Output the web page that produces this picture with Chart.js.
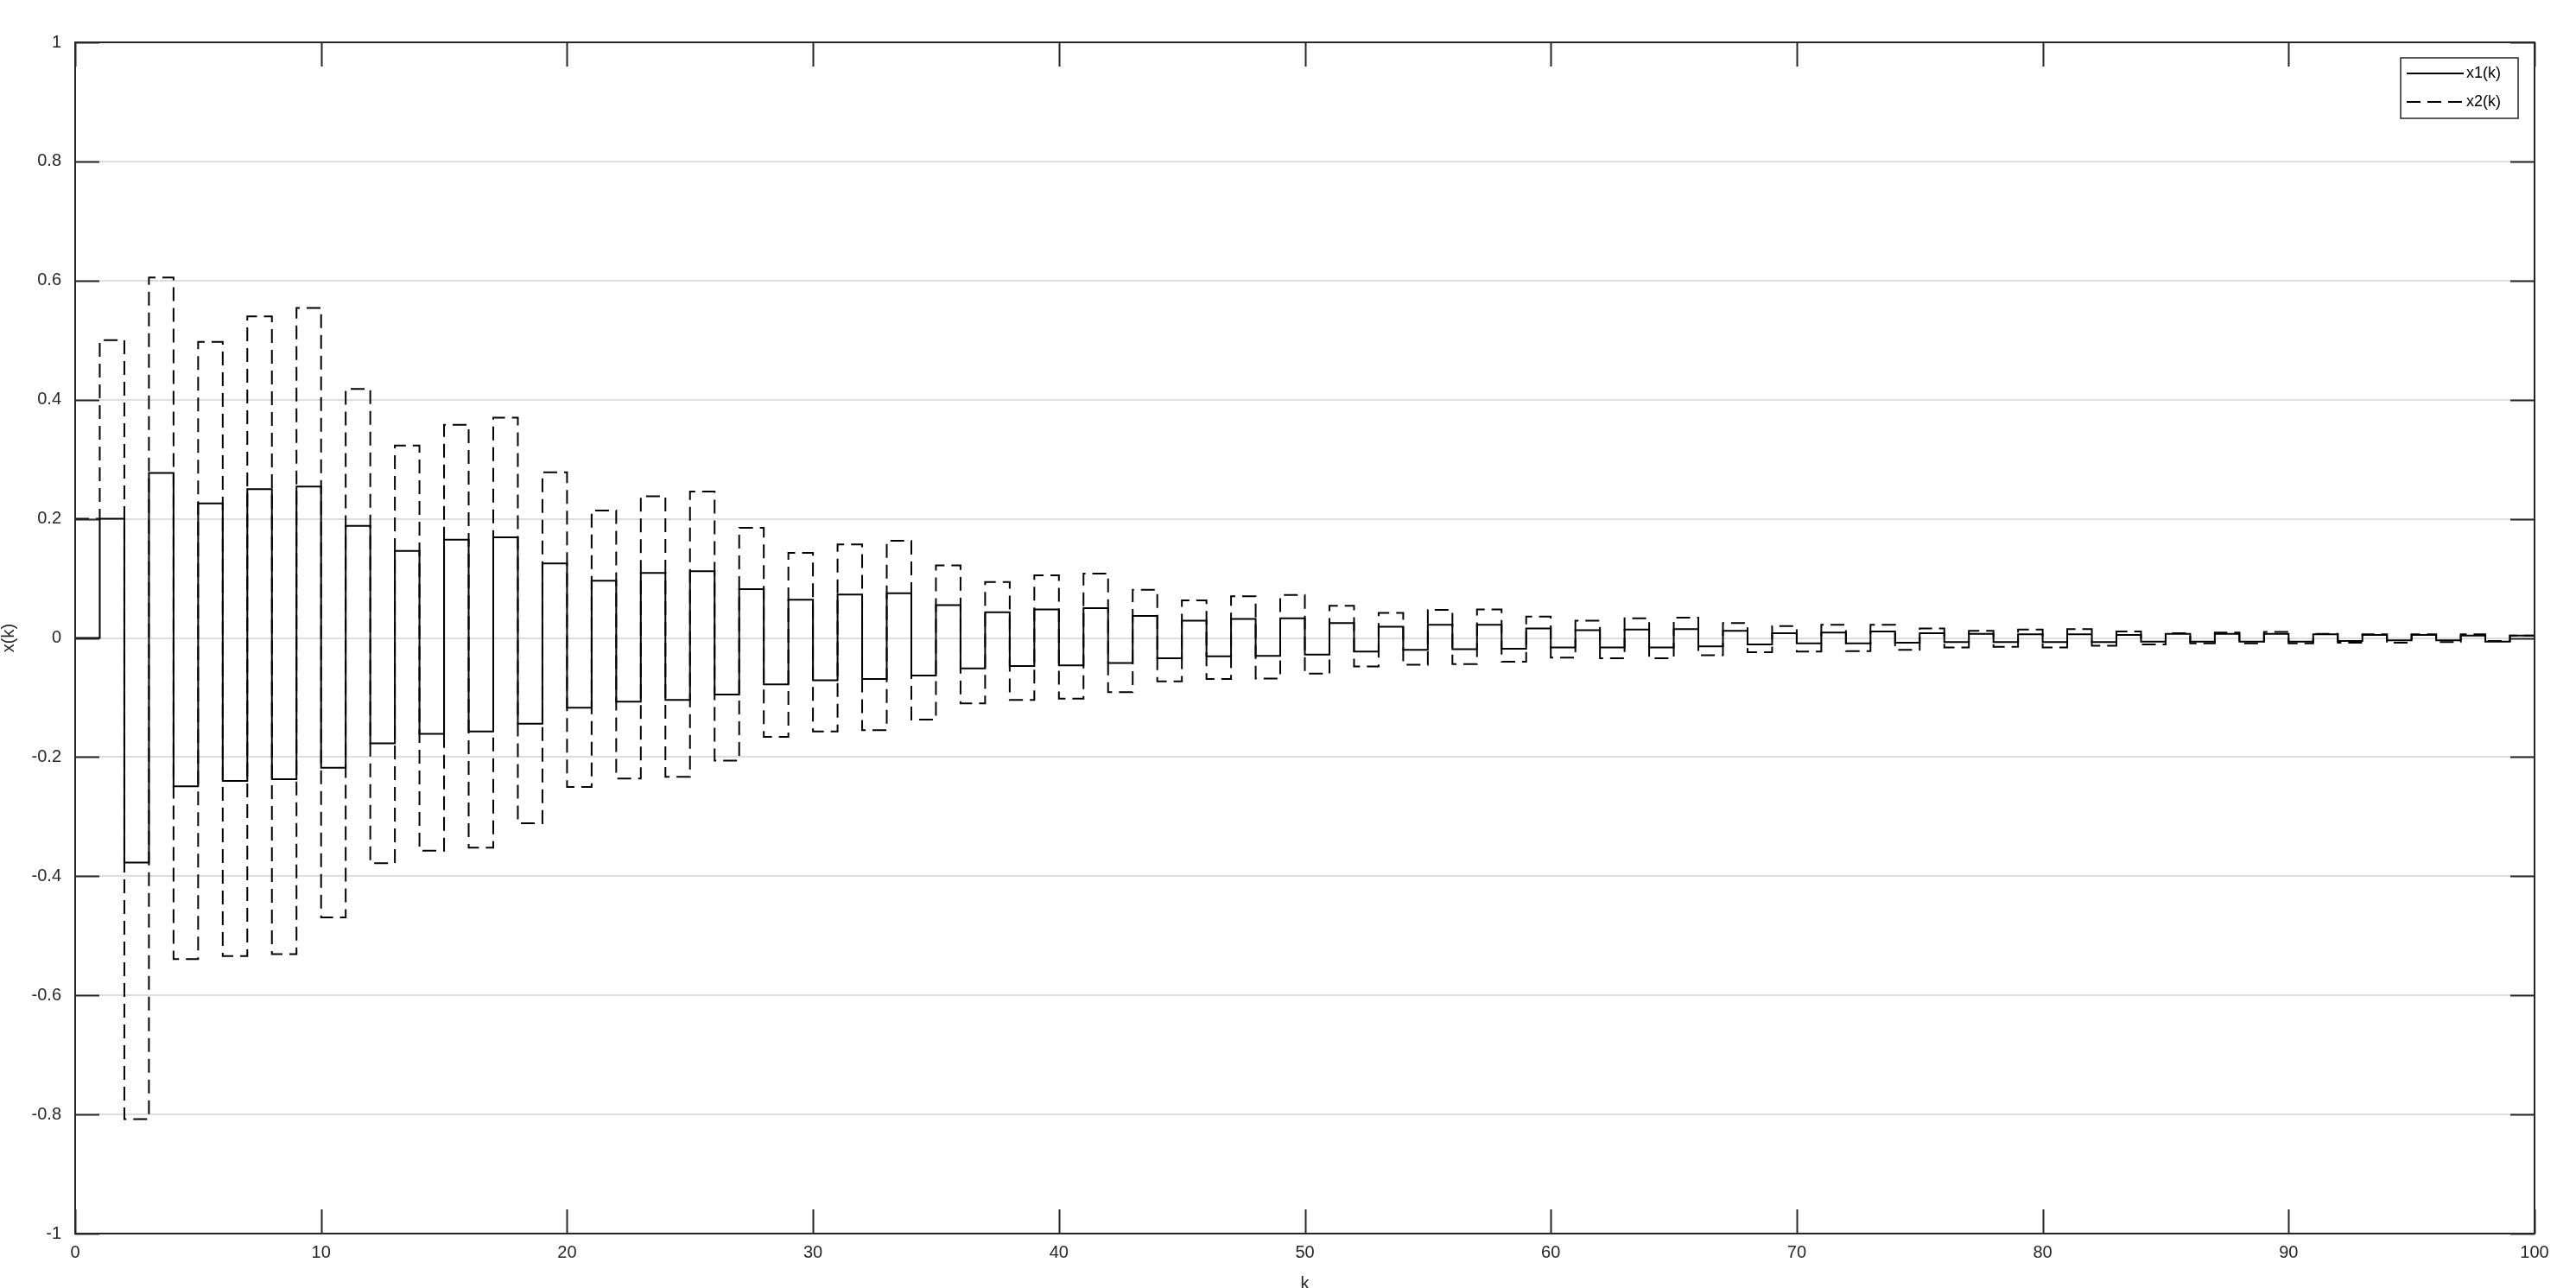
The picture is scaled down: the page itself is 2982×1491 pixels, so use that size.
<!DOCTYPE html>
<html>
<head>
<meta charset="utf-8">
<script src="https://cdn.jsdelivr.net/npm/chart.js@4.4.0/dist/chart.umd.min.js"></script>
<style>
  html, body { margin: 0; padding: 0; background: #fff; }
  #wrap { width: 2982px; height: 1491px; }
</style>
</head>
<body>
<div id="wrap"><canvas id="stairs" width="2982" height="1491"></canvas></div>
<script>
// sample index k = 0..100
const k = [];
for (let i = 0; i <= 100; i++) k.push(i);

// x1(k), solid line
const x1 = [
  0, 0.200, -0.377, 0.277, -0.249, 0.226, -0.240, 0.250, -0.237, 0.254,
  -0.218, 0.188, -0.177, 0.146, -0.161, 0.165, -0.157, 0.169, -0.144, 0.125,
  -0.117, 0.096, -0.107, 0.109, -0.104, 0.112, -0.095, 0.082, -0.078, 0.064,
  -0.071, 0.073, -0.069, 0.075, -0.063, 0.055, -0.051, 0.043, -0.047, 0.048,
  -0.046, 0.050, -0.042, 0.037, -0.034, 0.029, -0.031, 0.032, -0.030, 0.033,
  -0.028, 0.025, -0.023, 0.019, -0.020, 0.022, -0.019, 0.022, -0.018, 0.016,
  -0.016, 0.013, -0.016, 0.014, -0.016, 0.015, -0.014, 0.012, -0.011, 0.008,
  -0.009, 0.009, -0.009, 0.011, -0.008, 0.008, -0.007, 0.007, -0.007, 0.006,
  -0.007, 0.006, -0.007, 0.005, -0.006, 0.007, -0.006, 0.007, -0.006, 0.007,
  -0.006, 0.006, -0.005, 0.005, -0.004, 0.005, -0.004, 0.004, -0.006, 0.004,
  0.003
];

// x2(k), dashed line
const x2 = [
  0.200, 0.500, -0.808, 0.605, -0.539, 0.497, -0.534, 0.540, -0.531, 0.554,
  -0.469, 0.418, -0.378, 0.323, -0.357, 0.358, -0.352, 0.370, -0.311, 0.278,
  -0.250, 0.214, -0.236, 0.238, -0.233, 0.246, -0.206, 0.185, -0.166, 0.143,
  -0.157, 0.157, -0.155, 0.163, -0.137, 0.122, -0.110, 0.094, -0.104, 0.105,
  -0.102, 0.108, -0.091, 0.081, -0.073, 0.063, -0.069, 0.070, -0.068, 0.072,
  -0.060, 0.054, -0.048, 0.042, -0.045, 0.047, -0.044, 0.048, -0.040, 0.036,
  -0.033, 0.029, -0.034, 0.033, -0.034, 0.034, -0.029, 0.025, -0.024, 0.020,
  -0.023, 0.022, -0.022, 0.022, -0.020, 0.016, -0.016, 0.012, -0.015, 0.014,
  -0.016, 0.015, -0.013, 0.011, -0.011, 0.008, -0.009, 0.009, -0.009, 0.010,
  -0.009, 0.007, -0.008, 0.006, -0.008, 0.006, -0.007, 0.006, -0.005, 0.004,
  0.004
];

const xTicks = [0, 10, 20, 30, 40, 50, 60, 70, 80, 90, 100];
const yTicks = [-1, -0.8, -0.6, -0.4, -0.2, 0, 0.2, 0.4, 0.6, 0.8, 1];

const axisColor = '#262626';
const fontFamily = '"Liberation Sans", Arial, Helvetica, sans-serif';

// MATLAB-like box, inward ticks on all four sides, and the legend box
const matlabAxes = {
  id: 'matlabAxes',
  afterDatasetsDraw(chart) {
    const { ctx, chartArea: a, scales } = chart;
    const xs = scales.x, ys = scales.y;
    const len = 28;
    ctx.save();
    ctx.strokeStyle = axisColor;
    ctx.lineWidth = 2;
    ctx.beginPath();
    xTicks.forEach(v => {
      const px = Math.round(xs.getPixelForValue(v)) + 0.5;
      ctx.moveTo(px, a.bottom); ctx.lineTo(px, a.bottom - len);
      ctx.moveTo(px, a.top); ctx.lineTo(px, a.top + len);
    });
    yTicks.forEach(v => {
      const py = Math.round(ys.getPixelForValue(v)) + 0.5;
      ctx.moveTo(a.left, py); ctx.lineTo(a.left + len, py);
      ctx.moveTo(a.right, py); ctx.lineTo(a.right - len, py);
    });
    ctx.stroke();
    ctx.strokeRect(a.left, a.top, a.right - a.left, a.bottom - a.top);

    // legend
    const bw = 136, bh = 70;
    const bx = a.right - 19 - bw, by = a.top + 18;
    ctx.fillStyle = '#fff';
    ctx.fillRect(bx, by, bw, bh);
    ctx.lineWidth = 1.5;
    ctx.strokeRect(bx, by, bw, bh);
    ctx.font = '18px ' + fontFamily;
    ctx.textBaseline = 'middle';
    chart.data.datasets.forEach((ds, i) => {
      const yy = by + 18 + i * 33;
      ctx.strokeStyle = ds.borderColor;
      ctx.lineWidth = ds.borderWidth;
      ctx.setLineDash(ds.borderDash || []);
      ctx.beginPath();
      ctx.moveTo(bx + 7, yy);
      ctx.lineTo(bx + 73, yy);
      ctx.stroke();
      ctx.setLineDash([]);
      ctx.fillStyle = '#000';
      ctx.fillText(ds.label, bx + 76, yy);
    });
    ctx.restore();
  }
};

new Chart(document.getElementById('stairs'), {
  type: 'line',
  data: {
    datasets: [
      {
        label: 'x1(k)',
        data: k.map((v, i) => ({ x: v, y: x1[i] })),
        borderColor: '#000',
        borderWidth: 2,
        stepped: 'before',
        pointRadius: 0,
        fill: false
      },
      {
        label: 'x2(k)',
        data: k.map((v, i) => ({ x: v, y: x2[i] })),
        borderColor: '#000',
        borderWidth: 2,
        borderDash: [16, 8],
        stepped: 'before',
        pointRadius: 0,
        fill: false
      }
    ]
  },
  options: {
    responsive: false,
    animation: false,
    devicePixelRatio: 1,
    layout: { padding: { top: 49, right: 48, left: 0, bottom: 0 } },
    plugins: {
      legend: { display: false },
      tooltip: { enabled: false }
    },
    scales: {
      x: {
        type: 'linear',
        min: 0,
        max: 100,
        afterBuildTicks: s => { s.ticks = xTicks.map(v => ({ value: v })); },
        afterFit: s => { s.height = 63; },
        grid: { display: false },
        border: { display: false },
        ticks: {
          padding: 2,
          color: axisColor,
          maxRotation: 0,
          font: { family: fontFamily, size: 20 }
        },
        title: {
          display: true,
          text: 'k',
          color: axisColor,
          padding: { top: 0, bottom: -5 },
          font: { family: fontFamily, size: 20, lineHeight: 1 }
        }
      },
      y: {
        type: 'linear',
        min: -1,
        max: 1,
        afterBuildTicks: s => { s.ticks = yTicks.map(v => ({ value: v })); },
        afterFit: s => { s.width = 87; },
        grid: {
          color: '#dedede',
          lineWidth: 2,
          drawTicks: false
        },
        border: { display: false },
        ticks: {
          padding: 16,
          color: axisColor,
          font: { family: fontFamily, size: 20 },
          callback: v => String(Math.round(v * 10) / 10)
        },
        title: {
          display: true,
          text: 'x(k)',
          color: axisColor,
          padding: 0,
          font: { family: fontFamily, size: 20, lineHeight: 1 }
        }
      }
    }
  },
  plugins: [matlabAxes]
});
</script>
</body>
</html>
